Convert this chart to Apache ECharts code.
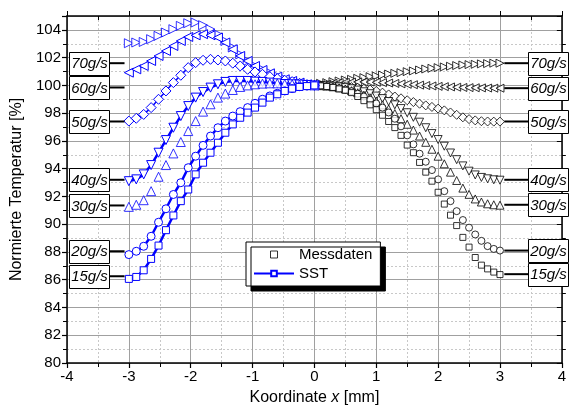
<!DOCTYPE html>
<html>
<head>
<meta charset="utf-8">
<script src="https://cdn.jsdelivr.net/npm/echarts@6/dist/echarts.min.js"></script>
<style>
  html, body { margin: 0; padding: 0; background: #fff; }
  #chart { width: 569px; height: 412px; }
</style>
</head>
<body>
<div id="chart"></div>
<script>
// Massenstroeme (Reihenfolge oben -> unten)
var flows = ['70g/s', '60g/s', '50g/s', '40g/s', '30g/s', '20g/s', '15g/s']

// linke Seite: SST (blau)
var xLeft = [-3, -2.88, -2.76, -2.64, -2.52, -2.4, -2.28, -2.16, -2.04, -1.92, -1.8, -1.68, -1.56,
  -1.44, -1.32, -1.2, -1.08, -0.96, -0.84, -0.72, -0.6, -0.48, -0.36, -0.24, -0.12, 0]
var left70 = [103.04, 103.09, 103.13, 103.33, 103.57, 103.81, 104.05, 104.29, 104.48, 104.53, 104.34, 104.05, 103.69,
  103.2, 102.73, 102.24, 101.76, 101.4, 101.16, 100.92, 100.68, 100.49, 100.32, 100.2, 100.08, 100]
var left60 = [100.92, 101.16, 101.4, 101.76, 102.12, 102.48, 102.84, 103.2, 103.49, 103.61, 103.69, 103.61, 103.45,
  103.09, 102.6, 102.12, 101.76, 101.4, 101.11, 100.87, 100.63, 100.44, 100.32, 100.2, 100.08, 100]
var left50 = [97.43, 97.63, 97.91, 98.4, 99.0, 99.6, 100.2, 100.73, 101.28, 101.64, 101.81, 101.88, 101.83,
  101.76, 101.6, 101.4, 101.16, 100.97, 100.8, 100.63, 100.49, 100.37, 100.27, 100.15, 100.06, 100]
var left40 = [93.1, 93.23, 93.59, 94.26, 95.15, 96.06, 96.95, 97.79, 98.51, 99.12, 99.52, 99.84, 100.08,
  100.25, 100.32, 100.32, 100.32, 100.27, 100.25, 100.2, 100.15, 100.1, 100.08, 100.06, 100.03, 100]
var left30 = [91.25, 91.4, 91.73, 92.38, 93.42, 94.26, 95.1, 95.92, 96.71, 97.43, 98.11, 98.64, 99.12,
  99.41, 99.67, 99.89, 100.0, 100.08, 100.13, 100.15, 100.15, 100.1, 100.08, 100.06, 100.03, 100]
var left20 = [87.81, 88.05, 88.41, 89.13, 90.14, 91.11, 92.14, 92.99, 94.07, 94.9, 95.68, 96.35, 96.95,
  97.43, 97.79, 98.11, 98.4, 98.71, 99.0, 99.24, 99.43, 99.6, 99.77, 99.91, 99.95, 100]
var left15 = [86.06, 86.2, 86.68, 87.5, 88.46, 89.57, 90.63, 91.66, 92.5, 93.59, 94.43, 95.15, 95.87,
  96.59, 97.19, 97.67, 98.04, 98.4, 98.76, 99.12, 99.36, 99.6, 99.77, 99.89, 99.95, 100]

// rechte Seite: Messdaten (schwarz)
var xRight = [0, 0.1, 0.2, 0.3, 0.4, 0.5, 0.6, 0.7, 0.8, 0.9, 1.0, 1.1, 1.2, 1.3, 1.4, 1.5,
  1.6, 1.7, 1.8, 1.9, 2.0, 2.1, 2.2, 2.3, 2.4, 2.5, 2.6, 2.7, 2.8, 2.9, 3.0]
var right70 = [100, 100.15, 100.2, 100.27, 100.32, 100.39, 100.44, 100.51, 100.56, 100.63, 100.68, 100.75, 100.82, 100.87, 100.92, 100.99,
  101.04, 101.11, 101.18, 101.23, 101.28, 101.33, 101.38, 101.43, 101.47, 101.5, 101.52, 101.55, 101.57, 101.6, 101.6]
var right60 = [100, 100.05, 100.1, 100.15, 100.2, 100.22, 100.24, 100.25, 100.25, 100.24, 100.22, 100.2, 100.17, 100.14, 100.11, 100.08,
  100.05, 100.02, 99.99, 99.96, 99.93, 99.91, 99.89, 99.87, 99.85, 99.84, 99.83, 99.82, 99.81, 99.8, 99.8]
var right50 = [100, 100, 99.99, 99.98, 99.96, 99.93, 99.88, 99.83, 99.76, 99.7, 99.6, 99.48, 99.35, 99.2, 99.07, 98.93,
  98.8, 98.68, 98.56, 98.45, 98.33, 98.2, 98.05, 97.88, 97.7, 97.57, 97.48, 97.42, 97.4, 97.39, 97.39]
var right40 = [100, 99.99, 99.97, 99.94, 99.9, 99.84, 99.76, 99.66, 99.54, 99.4, 99.23, 99.05, 98.84, 98.6, 98.33, 98.03,
  97.7, 97.35, 96.95, 96.53, 96.1, 95.62, 95.13, 94.65, 94.2, 93.82, 93.55, 93.37, 93.27, 93.2, 93.17]
var right30 = [100, 99.98, 99.95, 99.9, 99.83, 99.74, 99.62, 99.47, 99.3, 99.1, 98.87, 98.6, 98.3, 97.97, 97.6, 97.2,
  96.78, 96.35, 95.9, 95.4, 94.9, 94.35, 93.75, 93.15, 92.6, 92.15, 91.82, 91.6, 91.47, 91.4, 91.37]
var right20 = [100, 99.98, 99.94, 99.88, 99.8, 99.7, 99.58, 99.4, 99.2, 98.97, 98.7, 98.4, 98.05, 97.6, 97.05, 96.4,
  95.75, 95.08, 94.5, 93.9, 93.23, 92.38, 91.66, 90.94, 90.3, 89.75, 89.26, 88.8, 88.42, 88.22, 88.1]
var right15 = [100, 99.97, 99.92, 99.85, 99.75, 99.65, 99.48, 99.2, 98.9, 98.6, 98.25, 97.85, 97.4, 96.96, 96.4, 95.7,
  95.15, 94.45, 93.75, 93.1, 92.3, 91.45, 90.65, 89.9, 89.05, 88.35, 87.6, 87.05, 86.78, 86.55, 86.37]

// Hoehe der Beschriftungskaesten
var labelLeftY = [101.6, 99.85, 97.4, 93.2, 91.35, 88.05, 86.25]
var labelRightY = [101.6, 99.8, 97.4, 93.2, 91.4, 88.1, 86.4]

var leftData = [left70, left60, left50, left40, left30, left20, left15]
var rightData = [right70, right60, right50, right40, right30, right20, right15]
var symbols = ['triangle', 'triangle', 'diamond', 'triangle', 'triangle', 'circle', 'rect']
var rotations = [-90, 90, 0, 180, 0, 0, 0]
var sizes = [9, 9, 10, 9, 9, 8, 7]
var withLine = [false, true, true, true, false, true, true]
var lineWidths = [0, 1.5, 1.5, 2.5, 0, 2.5, 2.5]

var BLUE = '#0000ff'
var FONT = 'Liberation Sans, Arial, sans-serif'

function pairs(xs, ys) {
  return xs.map(function (x, i) { return [x, ys[i]] })
}

var series = []
// Legenden-Dummies
series.push({
  name: 'Messdaten', type: 'scatter', symbol: 'rect', symbolSize: 7,
  itemStyle: { color: '#fff', borderColor: '#000', borderWidth: 1 }, data: []
})
series.push({
  name: 'SST', type: 'line', symbol: 'rect', symbolSize: 8,
  lineStyle: { color: BLUE, width: 3 },
  itemStyle: { color: '#fff', borderColor: BLUE, borderWidth: 1 }, data: []
})

flows.forEach(function (f, k) {
  var common = {
    symbol: symbols[k], symbolRotate: rotations[k], symbolSize: sizes[k],
    animation: false, silent: true
  }
  if (withLine[k]) {
    series.push(Object.assign({
      name: 'SST ' + f, type: 'line', showAllSymbol: true,
      lineStyle: { color: BLUE, width: lineWidths[k] },
      itemStyle: { color: '#fff', borderColor: BLUE, borderWidth: 1 },
      data: pairs(xLeft, leftData[k]), z: 3
    }, common))
  } else {
    series.push(Object.assign({
      name: 'SST ' + f, type: 'scatter',
      itemStyle: { color: '#fff', borderColor: BLUE, borderWidth: 1 },
      data: pairs(xLeft, leftData[k]), z: 3
    }, common))
  }
  series.push(Object.assign({
    name: 'Mess ' + f, type: 'scatter',
    itemStyle: { color: '#fff', borderColor: '#000', borderWidth: 1 },
    data: pairs(xRight, rightData[k]), z: 2
  }, common, { symbolSize: sizes[k] - 1 }))
})

var myChart = echarts.init(document.getElementById('chart'))
var option = {
  animation: false,
  backgroundColor: '#fff',
  textStyle: { fontFamily: FONT },
  grid: { left: 67, right: 4, top: 16, bottom: 49 },
  legend: {
    data: [
      {
        name: 'Messdaten', icon: 'path://M0 0H10V10H0Z',
        itemStyle: { color: '#fff', borderColor: '#000', borderWidth: 1 }
      },
      { name: 'SST' }
    ],
    orient: 'vertical',
    left: 246, top: 242,
    padding: [5, 8, 5, 7],
    itemGap: 4,
    itemWidth: 40, itemHeight: 7,
    backgroundColor: '#fff',
    borderColor: '#000', borderWidth: 1, borderRadius: 0,
    shadowColor: '#000', shadowBlur: 0, shadowOffsetX: 5, shadowOffsetY: 5,
    textStyle: { fontSize: 15, color: '#000', fontFamily: FONT },
    selectedMode: false
  },
  xAxis: [{
    type: 'value', min: -4, max: 4, interval: 1,
    name: '{n|Koordinate }{i|x}{n| [mm]}',
    nameLocation: 'middle', nameGap: 27,
    nameTextStyle: {
      rich: {
        n: { fontSize: 16, color: '#000', fontFamily: FONT },
        i: { fontSize: 16, color: '#000', fontStyle: 'italic', fontFamily: FONT }
      }
    },
    axisLine: { onZero: false, lineStyle: { color: '#000', width: 1.5 } },
    axisTick: { length: 5, lineStyle: { color: '#000', width: 1.2 } },
    minorTick: { show: true, splitNumber: 2, length: 4, lineStyle: { color: '#000' } },
    axisLabel: { fontSize: 15, color: '#000', margin: 6 },
    splitLine: { show: true, lineStyle: { color: '#a0a0a0', width: 1 } },
    minorSplitLine: { show: true, lineStyle: { color: '#c8c8c8', type: [2, 2] } }
  }, {
    type: 'value', min: -4, max: 4, interval: 1, position: 'top',
    axisLine: { onZero: false, lineStyle: { color: '#000', width: 1.5 } },
    axisTick: { length: 5, lineStyle: { color: '#000' } },
    minorTick: { show: true, splitNumber: 2, length: -4, lineStyle: { color: '#000' } },
    axisLabel: { show: false },
    splitLine: { show: false }
  }],
  yAxis: [{
    type: 'value', min: 80, max: 105, interval: 2,
    name: 'Normierte Temperatur [%]',
    nameLocation: 'middle', nameGap: 42,
    nameTextStyle: { fontSize: 16, color: '#000', fontFamily: FONT },
    axisLine: { show: true, onZero: false, lineStyle: { color: '#000', width: 1.5 } },
    axisTick: { show: true, length: 5, lineStyle: { color: '#000', width: 1.2 } },
    minorTick: { show: true, splitNumber: 2, length: 4, lineStyle: { color: '#000' } },
    axisLabel: {
      fontSize: 15, color: '#000', margin: 6,
      formatter: function (v) { return v > 104 ? '' : v }
    },
    splitLine: { show: true, lineStyle: { color: '#a0a0a0', width: 1 } },
    minorSplitLine: { show: true, lineStyle: { color: '#c8c8c8', type: [2, 2] } }
  }, {
    type: 'value', min: 80, max: 105, interval: 2, position: 'right',
    axisLine: { show: true, onZero: false, lineStyle: { color: '#000', width: 1.5 } },
    axisTick: { show: true, inside: true, length: 5, lineStyle: { color: '#000' } },
    minorTick: { show: true, splitNumber: 2, length: -4, lineStyle: { color: '#000' } },
    axisLabel: { show: false },
    splitLine: { show: false }
  }],
  series: series
}
myChart.setOption(option)

// Beschriftungskaesten links und rechts
function px(x, y) {
  return myChart.convertToPixel({ xAxisIndex: 0, yAxisIndex: 0 }, [x, y])
}
var elements = []
function addBox(text, boxX, lineX1, lineX2, cy) {
  elements.push({
    type: 'line', z: 100,
    shape: { x1: lineX1, y1: cy, x2: lineX2, y2: cy },
    style: { stroke: '#000', lineWidth: 2 }
  })
  elements.push({
    type: 'rect', z: 101,
    shape: { x: boxX, y: Math.round(cy - 11.5) + 0.5, width: 40, height: 23 },
    style: { fill: '#fff', stroke: '#000', lineWidth: 1 }
  })
  elements.push({
    type: 'text', z: 102,
    x: boxX + 20, y: cy + 1,
    style: {
      text: text, fill: '#000', font: 'italic 15px ' + FONT,
      align: 'center', verticalAlign: 'middle'
    }
  })
}
flows.forEach(function (f, k) {
  var pl = px(-3.07, labelLeftY[k])
  var pr = px(3.07, labelRightY[k])
  addBox(f, 69.5, 109, pl[0], pl[1])
  addBox(f, 528.5, pr[0], 529, pr[1])
})
myChart.setOption({ graphic: { elements: elements } })
</script>
</body>
</html>
